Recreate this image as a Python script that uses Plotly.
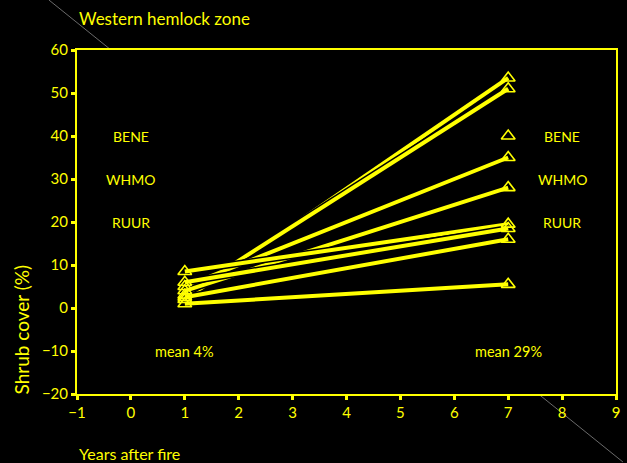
import plotly.graph_objects as go

# Shrub cover (%) on each plot, 1 and 7 years after fire
years = [1, 7]
cover_year1 = [2.0, 3.0, 5.0, 4.0, 8.5, 6.0, 2.5, 1.0]
cover_year7 = [53.5, 51.0, 35.0, 28.0, 19.5, 18.5, 16.0, 5.5]

# species labels shown on both sides of the chart
species = ["BENE", "WHMO", "RUUR"]
species_y = [40, 30, 20]
species_x_left = 0
species_x_right = 8
key_marker = (7, 40)

mean_labels = ["mean 4%", "mean 29%"]
mean_x = [1, 7]
mean_y = -10

YELLOW = "#ffff00"
FONT = "Lato, 'Open Sans', sans-serif"

fig = go.Figure()

for v1, v7 in zip(cover_year1, cover_year7):
    # black casing under each yellow line keeps crossing lines separate
    fig.add_trace(go.Scatter(x=years, y=[v1, v7], mode="lines",
                             line=dict(color="black", width=7),
                             hoverinfo="skip", showlegend=False))
    fig.add_trace(go.Scatter(x=years, y=[v1, v7], mode="lines",
                             line=dict(color=YELLOW, width=4),
                             showlegend=False))

for v1, v7 in zip(cover_year1, cover_year7):
    fig.add_trace(go.Scatter(x=years, y=[v1, v7], mode="markers",
                             marker=dict(symbol="triangle-up-open", size=12,
                                         color=YELLOW, line=dict(width=1.6, color=YELLOW)),
                             showlegend=False))

fig.add_trace(go.Scatter(x=[key_marker[0]], y=[key_marker[1]], mode="markers",
                         marker=dict(symbol="triangle-up-open", size=12,
                                     color=YELLOW, line=dict(width=1.6, color=YELLOW)),
                         showlegend=False))

for name, yv in zip(species, species_y):
    for xv in (species_x_left, species_x_right):
        fig.add_annotation(x=xv, y=yv, text=name, showarrow=False,
                           font=dict(size=14, color=YELLOW, family=FONT))

for label, xv in zip(mean_labels, mean_x):
    fig.add_annotation(x=xv, y=mean_y, text=label, showarrow=False,
                       font=dict(size=14.5, color=YELLOW, family=FONT))

# thin diagonal rule running behind the plot area
L, R, T, B = 77, 7, 50, 69
W, H = 627, 463
pw, ph = W - L - R, H - T - B
def px(xp):
    return (xp - L) / pw
def py(yp):
    return (H - B - yp) / ph

fig.add_shape(type="line", xref="paper", yref="paper",
              x0=px(48.7), y0=py(0), x1=px(627), y1=py(462),
              line=dict(color="#6a6a6a", width=1), layer="below")
fig.add_shape(type="rect", xref="paper", yref="paper", x0=0, y0=0, x1=1, y1=1,
              fillcolor="black", line=dict(width=0), layer="below")

# titles
fig.add_annotation(xref="paper", yref="paper", x=px(77), y=py(18), text="Western hemlock zone",
                   showarrow=False, xanchor="left", yanchor="middle",
                   font=dict(size=17, color=YELLOW, family=FONT))
fig.add_annotation(xref="paper", yref="paper", x=px(77), y=py(453), text="Years after fire",
                   showarrow=False, xanchor="left", yanchor="middle",
                   font=dict(size=16, color=YELLOW, family=FONT))
fig.add_annotation(xref="paper", yref="paper", x=px(21), y=py(396), text="Shrub cover (%)",
                   showarrow=False, textangle=-90, xanchor="center", yanchor="bottom",
                   font=dict(size=19, color=YELLOW, family=FONT))

axis_common = dict(showgrid=False, zeroline=False, showline=True, linecolor=YELLOW,
                   linewidth=2, mirror=True, ticks="outside", ticklen=4, tickwidth=3,
                   tickcolor=YELLOW, tickfont=dict(size=15, color=YELLOW, family=FONT))

fig.update_xaxes(range=[-1, 9], dtick=1, tick0=-1, **axis_common)
fig.update_yaxes(range=[-20, 60], dtick=10, tick0=0, **axis_common)

fig.update_layout(width=W, height=H, margin=dict(l=L, r=R, t=T, b=B),
                  paper_bgcolor="black", plot_bgcolor="black", showlegend=False,
                  font=dict(family=FONT, color=YELLOW))

fig.write_html("out.html")
